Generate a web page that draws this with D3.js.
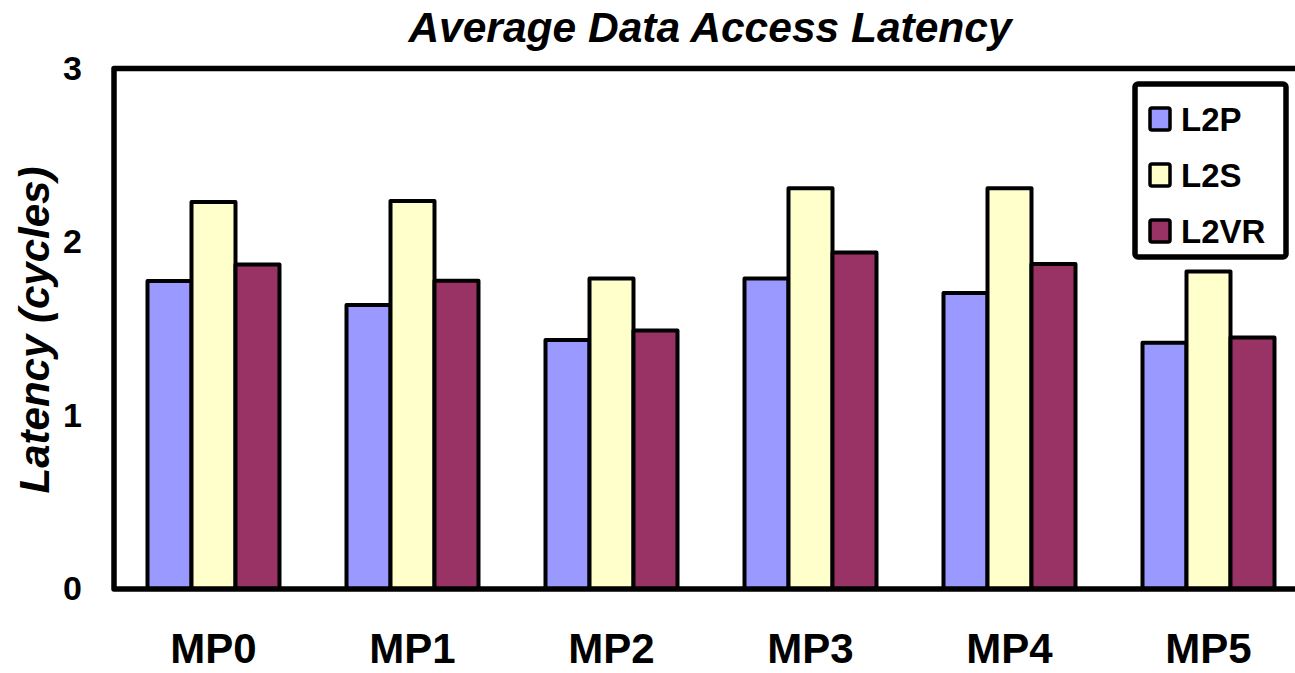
<!DOCTYPE html>
<html>
<head>
<meta charset="utf-8">
<script src="https://cdn.jsdelivr.net/npm/d3@7"></script>
<style>
  html, body { margin: 0; padding: 0; background: #fff; overflow: hidden; }
  svg { display: block; font-family: "Liberation Sans", Arial, sans-serif; }
</style>
</head>
<body>
<svg id="chart" width="1295" height="673"></svg>
<script>
const categories = ["MP0", "MP1", "MP2", "MP3", "MP4", "MP5"];
const seriesNames = ["L2P", "L2S", "L2VR"];
const L2P  = [1.775, 1.637, 1.435, 1.79, 1.706, 1.42];
const L2S  = [2.23, 2.236, 1.79, 2.31, 2.31, 1.83];
const L2VR = [1.87, 1.777, 1.49, 1.94, 1.873, 1.45];
const seriesColors = ["#9999FF", "#FFFFCC", "#993366"];
const yTicks = [0, 1, 2, 3];
const titleText = "Average Data Access Latency";
const yLabelText = "Latency (cycles)";

const seriesValues = [L2P, L2S, L2VR];
const data = categories.map((c, i) => ({
  cat: c,
  vals: seriesNames.map((s, j) => ({ key: s, value: seriesValues[j][i], color: seriesColors[j] }))
}));

const svg = d3.select("#chart");
const mLeft = 114, mTop = 68.5, mBottom = 589, mRight = 1308;

const x0 = d3.scaleBand().domain(categories).range([mLeft, mRight])
  .paddingInner(0.3367).paddingOuter(0.3367 / 2);
const x1 = d3.scaleBand().domain(seriesNames).range([0, x0.bandwidth()]).padding(0);
const y = d3.scaleLinear().domain([0, 3]).range([mBottom, mTop]);

// bars
const g = svg.append("g");
g.selectAll("g.grp").data(data).join("g")
  .attr("class", "grp")
  .attr("transform", d => `translate(${x0(d.cat)},0)`)
  .selectAll("rect").data(d => d.vals).join("rect")
  .attr("x", d => x1(d.key))
  .attr("y", d => y(d.value))
  .attr("width", x1.bandwidth())
  .attr("height", d => y(0) - y(d.value))
  .attr("fill", d => d.color)
  .attr("stroke", "#000")
  .attr("stroke-width", 4)
  .attr("stroke-linejoin", "round");

// frame: top, left, bottom
svg.append("path")
  .attr("d", `M${mRight + 10},${mTop} L${mLeft},${mTop} L${mLeft},${mBottom} L${mRight + 10},${mBottom}`)
  .attr("fill", "none").attr("stroke", "#000").attr("stroke-width", 5.5)
  .attr("stroke-linejoin", "round");

// y axis tick labels
const yAxis = d3.axisLeft(y).tickValues(yTicks).tickSize(0).tickPadding(32).tickFormat(d3.format("d"));
const ya = svg.append("g").attr("transform", `translate(${mLeft},0)`).call(yAxis);
ya.select(".domain").remove();
ya.selectAll("text").attr("font-size", 34).attr("font-weight", "bold")
  .attr("font-family", "'Liberation Sans', Arial, sans-serif").attr("fill", "#000");

// x axis labels
const xAxis = d3.axisBottom(x0).tickSize(0).tickPadding(0);
const xa = svg.append("g").attr("transform", `translate(0,${mBottom})`).call(xAxis);
xa.select(".domain").remove();
xa.selectAll("text").attr("dy", null).attr("y", 74)
  .attr("font-size", 42).attr("font-weight", "bold")
  .attr("font-family", "'Liberation Sans', Arial, sans-serif").attr("fill", "#000");

// title
svg.append("text").attr("x", 710).attr("y", 42).attr("text-anchor", "middle")
  .attr("font-size", 42.5).attr("font-weight", "bold").attr("font-style", "italic")
  .text(titleText);

// y label
svg.append("text").attr("transform", "translate(49,330) rotate(-90)")
  .attr("text-anchor", "middle")
  .attr("font-size", 42).attr("font-weight", "bold").attr("font-style", "italic")
  .text(yLabelText);

// legend
const lg = svg.append("g");
lg.append("rect").attr("x", 1135).attr("y", 84).attr("width", 151).attr("height", 173)
  .attr("rx", 3).attr("fill", "#fff").attr("stroke", "#000").attr("stroke-width", 5.5);
const items = lg.selectAll("g.item").data(seriesNames.map((s, i) => ({ s, c: seriesColors[i] })))
  .join("g").attr("class", "item")
  .attr("transform", (d, i) => `translate(0,${119 + i * 56})`);
items.append("rect").attr("x", 1150).attr("y", -11).attr("width", 20).attr("height", 22)
  .attr("rx", 2).attr("fill", d => d.c).attr("stroke", "#000").attr("stroke-width", 3.5);
items.append("text").attr("x", 1181).attr("y", 12)
  .attr("font-size", 33).attr("font-weight", "bold").text(d => d.s);
</script>
</body>
</html>
